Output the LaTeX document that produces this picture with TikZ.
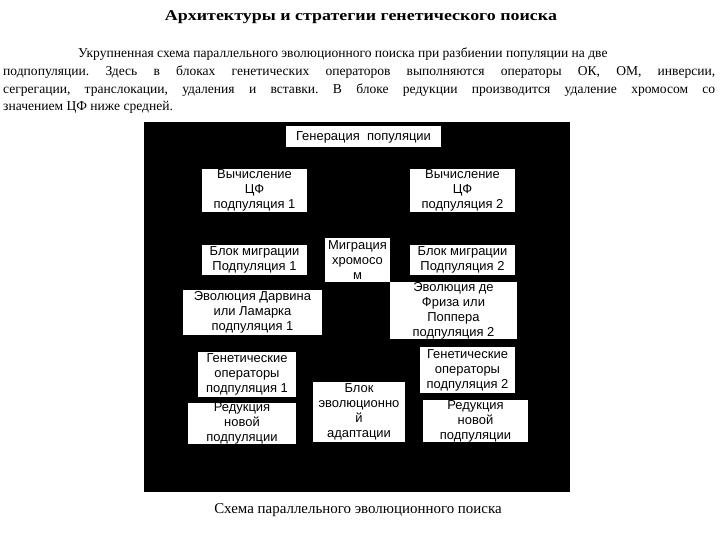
\documentclass[tikz,border=0pt]{standalone}
\usepackage{fontspec}
\setmainfont{Liberation Serif}
\newfontfamily\arialfont{Liberation Sans}
\newfontfamily\titlefont[FakeStretch=1.2]{Liberation Serif}
\usetikzlibrary{positioning}
\frenchspacing

\tikzset{
    blok/.style={fill=white, font=\arialfont\fontsize{13}{15}\selectfont,
        align=center, inner sep=0pt},
}

\begin{document}
\begin{tikzpicture}[x=1bp, y=-1bp]
    \useasboundingbox (0,0) rectangle (720,540);

    % заголовок и текст
    \node[font=\titlefont\fontsize{15}{17}\selectfont\bfseries] (titul) at (361,17)
        {Архитектуры и стратегии генетического поиска};
    \node[anchor=north west, align=left, inner sep=0pt,
        font=\fontsize{13.6}{17.7}\selectfont] (tekst) at (3,48)
        {\hspace*{75bp}Укрупненная схема параллельного эволюционного поиска при разбиении популяции на две\\
         \makebox[712bp][s]{подпопуляции. Здесь в блоках генетических операторов выполняются операторы ОК, ОМ, инверсии,}\\
         \makebox[712bp][s]{сегрегации, транслокации, удаления и вставки. В блоке редукции производится удаление хромосом со}\\
         значением ЦФ ниже средней.};

    % черный фон схемы
    \fill[black] (144,122) rectangle (570,492);

    % блоки
    \foreach \name/\x/\y/\w/\h/\txt in {
        gen/363.5/137/155/21/{Генерация\ \ популяции},
        cf1/254.5/190.5/105/43/{Вычисление\\ЦФ\\подпуляция 1},
        cf2/462.5/190.5/105/43/{Вычисление\\ЦФ\\подпуляция 2},
        mig1/254.5/260/105/30/{Блок миграции\\Подпуляция 1},
        migr/357.5/260/65/44/{Миграция\\хромосо\\м},
        mig2/462.5/260/105/30/{Блок миграции\\Подпуляция 2},
        evo1/252.5/312.5/139/45/{Эволюция Дарвина\\или Ламарка\\подпуляция 1},
        evo2/453.5/310.5/127/55/{Эволюция де\\Фриза или\\Поппера\\подпуляция 2},
        gop1/247/374.5/98/45/{Генетические\\операторы\\подпуляция 1},
        red1/242/423.5/108/37/{Редукция\\новой\\подпуляции},
        adapt/359/412/92/60/{Блок\\эволюционно\\й\\адаптации},
        gop2/467.5/370/95/46/{Генетические\\операторы\\подпуляция 2},
        red2/475.5/421/105/32/{Редукция\\новой\\подпуляции}} {
        \node[blok, minimum width=\w bp, minimum height=\h bp] (\name) at (\x,\y) {\txt};
    }

    % подпись
    \node[font=\fontsize{15}{17}\selectfont] (podpis) at (358,510)
        {Схема параллельного эволюционного поиска};
\end{tikzpicture}
\end{document}
